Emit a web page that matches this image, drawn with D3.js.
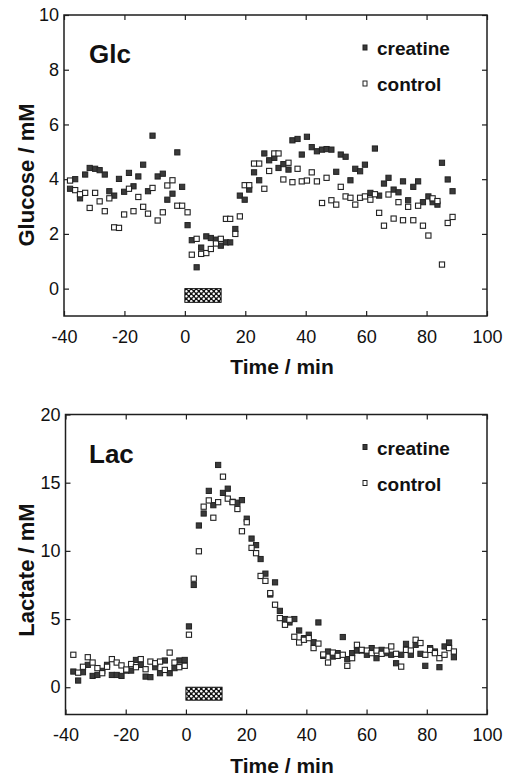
<!DOCTYPE html>
<html>
<head>
<meta charset="utf-8">
<script src="https://cdn.jsdelivr.net/npm/d3@7"></script>
<style>
  body { margin: 0; background: #fff; }
  svg { display: block; }
</style>
</head>
<body>
<script>
// sampling times (min) and values
const glcTime = [-38, -36.3, -34.7, -33, -31.5, -29.7, -28.2, -26.5, -25, -23.4, -21.8, -20.1, -18.5, -17, -15.4, -13.8, -12.2, -10.7, -9, -7.3,
  -5.8, -4.1, -2.5, -0.9, 0.9, 2.3, 3.9, 5.4, 7.1, 8.6, 10.3, 11.9, 13.6, 15, 16.7, 18.2, 19.8, 21.3, 22.9, 24.6,
  26.3, 27.9, 29.6, 31, 32.6, 34.3, 35.6, 37.3, 38.7, 40.4, 42, 43.7, 45.4, 46.9, 48.5, 50.1, 51.6, 53.2, 54.8, 56.4,
  58, 59.6, 61.4, 62.9, 64.3, 65.9, 67.4, 69.1, 70.7, 72.2, 73.9, 75.6, 77.2, 78.8, 80.6, 82, 83.6, 85.1, 87, 88.6];
const glcCreatine = [3.65, 4.0, 3.3, 4.17, 4.41, 4.38, 4.33, 4.17, 3.56, 3.4, 4.01, 3.54, 4.23, 3.74, 4.1, 4.53, 3.56, 5.59, 4.1, 4.2,
  3.25, 3.47, 4.98, 3.72, 2.32, 1.77, 0.78, 1.5, 1.91, 1.85, 1.79, 1.57, 1.69, 1.69, 2.18, 3.4, 3.25, 3.62, 4.25, 3.96,
  4.94, 4.69, 4.78, 4.41, 4.55, 4.35, 5.42, 5.47, 4.9, 5.55, 5.17, 5.02, 5.08, 5.1, 5.08, 4.27, 4.9, 4.82, 3.96, 4.38,
  4.29, 4.53, 3.5, 5.12, 3.4, 3.84, 4.05, 3.62, 3.52, 3.92, 3.23, 3.72, 3.92, 3.16, 3.37, 3.16, 3.07, 4.6, 3.99, 3.56];
const glcControl = [3.95, 3.6, 3.45, 3.5, 2.95, 3.5, 3.19, 2.83, 3.3, 2.24, 2.22, 2.71, 3.65, 2.83, 3.35, 2.99, 2.74, 3.68, 2.49, 2.79,
  3.77, 3.96, 3.03, 3.03, 2.79, 1.24, 1.82, 1.27, 1.3, 1.45, 1.65, 1.82, 2.55, 2.55, 2.0, 2.64, 3.78, 3.78, 4.57, 4.57,
  3.65, 4.3, 4.94, 4.94, 3.99, 4.6, 3.89, 4.38, 3.92, 3.95, 4.25, 3.92, 3.13, 4.05, 3.23, 3.07, 3.72, 3.37, 3.32, 3.07,
  3.32, 3.37, 3.25, 3.45, 2.77, 2.3, 3.44, 2.56, 3.16, 2.5, 2.99, 2.5, 3.03, 2.3, 1.94, 3.3, 3.2, 0.88, 2.4, 2.62];

const lacTime = [-37.4, -35.8, -34.2, -32.6, -31, -29.4, -27.8, -26.2, -24.6, -23, -21.4, -19.8, -18.2, -16.6, -15, -13.4, -11.8, -10.2, -8.6, -7,
  -5.4, -3.8, -2.2, -0.4, 1, 2.6, 4.3, 5.9, 7.6, 9.1, 10.7, 12.3, 13.9, 15.5, 17.1, 18.6, 20.2, 21.8, 23.3, 24.8,
  26.4, 28, 29.6, 31.2, 32.9, 34.4, 36, 37.6, 39.2, 40.8, 42.4, 44, 45.6, 47.2, 48.8, 50.4, 52.1, 53.6, 55.2, 56.8,
  58.4, 60.1, 61.7, 63.3, 65, 66.6, 68.2, 69.8, 71.5, 73.1, 74.7, 76.3, 77.9, 79.5, 81.1, 82.7, 84.2, 85.9, 87.4, 89];
const lacCreatine = [1.15, 0.49, 1.1, 1.64, 0.83, 0.9, 1.2, 1.64, 0.9, 0.9, 0.83, 1.22, 1.22, 2.0, 1.64, 0.78, 0.74, 1.47, 1.03, 1.96,
  1.03, 1.4, 1.96, 2.0, 4.46, 7.5, 11.86, 12.74, 14.4, 13.35, 16.3, 14.25, 14.56, 13.6, 13.53, 13.72, 12.36, 10.9, 10.42, 9.4,
  8.33, 6.8, 7.69, 5.6, 5.0, 4.75, 5.0, 4.16, 3.6, 3.85, 3.3, 4.75, 2.3, 2.62, 2.25, 2.5, 3.68, 2.06, 2.5, 2.69,
  2.69, 2.38, 2.87, 2.13, 2.74, 2.5, 2.38, 1.76, 2.38, 3.18, 2.38, 3.11, 2.45, 1.57, 2.87, 2.62, 1.47, 2.99, 3.28, 2.2];
const lacControl = [2.38, 1.07, 1.5, 2.2, 1.81, 1.4, 1.03, 1.5, 2.06, 1.81, 1.6, 1.3, 1.7, 1.47, 2.06, 1.32, 1.88, 1.76, 1.88, 1.27,
  2.54, 1.81, 1.47, 1.57, 3.85, 7.96, 9.97, 13.24, 13.7, 12.43, 13.57, 15.44, 13.83, 13.57, 13.07, 11.44, 12.1, 10.22, 9.83, 8.16,
  7.8, 6.9, 6.05, 5.07, 4.58, 4.95, 3.7, 3.28, 3.48, 3.6, 2.87, 3.2, 2.4, 1.81, 2.54, 2.3, 2.38, 1.57, 2.13, 3.11,
  2.74, 2.69, 2.5, 2.69, 2.45, 2.69, 2.99, 2.45, 1.51, 2.74, 2.69, 3.48, 3.24, 2.38, 2.74, 2.5, 2.13, 2.38, 2.87, 2.62];

const xTicks = [-40, -20, 0, 20, 40, 60, 80, 100];
const glcTicks = [0, 2, 4, 6, 8, 10];
const lacTicks = [0, 5, 10, 15, 20];
const seriesNames = ['creatine', 'control'];
const stimulus = [0, 12]; // min

const font = "'Liberation Sans', Arial, Helvetica, sans-serif";
const ink = '#1e1e1e';

const svg = d3.select('body').append('svg')
  .attr('width', 506)
  .attr('height', 776);

// checkered fill for the stimulation bar
let pat = svg.append('defs').append('pattern')
  .attr('id', 'hatch')
  .attr('patternUnits', 'userSpaceOnUse')
  .attr('width', 5)
  .attr('height', 5);
pat.append('rect').attr('width', 5).attr('height', 5).attr('fill', '#111');
pat.append('circle').attr('cx', 1.25).attr('cy', 1.25).attr('r', 1.25).attr('fill', '#fff');
pat.append('circle').attr('cx', 3.75).attr('cy', 3.75).attr('r', 1.25).attr('fill', '#fff');

// plain hyphen for negatives, like the original
const plain = d => String(d);

function styleAxis(g, size) {
  g.attr('font-family', font).attr('font-size', size).attr('color', ink);
  g.select('.domain').remove();
  g.selectAll('.tick line').attr('stroke-width', 1.2);
  g.selectAll('.tick text').attr('fill', '#111');
}

function drawPanel(p) {
  let x = d3.scaleLinear().domain([-40, 100]).range([p.left, 487]);
  let y = d3.scaleLinear().domain(p.yDomain).range([p.bottom, p.top]);

  let g = svg.append('g');

  // inward ticks on all four sides
  g.append('g')
    .attr('transform', `translate(0, ${p.bottom})`)
    .call(d3.axisBottom(x).tickValues(xTicks).tickSize(-5).tickSizeOuter(0).tickPadding(14).tickFormat(plain))
    .call(a => styleAxis(a, 18));
  g.append('g')
    .attr('transform', `translate(0, ${p.top})`)
    .call(d3.axisTop(x).tickValues(xTicks).tickSize(-5).tickSizeOuter(0).tickFormat(''))
    .call(a => styleAxis(a, 18));
  g.append('g')
    .attr('transform', `translate(${p.left}, 0)`)
    .call(d3.axisLeft(y).tickValues(p.yTicks).tickSize(-5).tickSizeOuter(0).tickPadding(5).tickFormat(plain))
    .call(a => styleAxis(a, 18));
  g.append('g')
    .attr('transform', `translate(487, 0)`)
    .call(d3.axisRight(y).tickValues(p.yTicks).tickSize(-5).tickSizeOuter(0).tickFormat(''))
    .call(a => styleAxis(a, 18));

  // frame
  g.append('rect')
    .attr('x', p.left)
    .attr('y', p.top)
    .attr('width', 487 - p.left)
    .attr('height', p.bottom - p.top)
    .attr('fill', 'none')
    .attr('stroke', ink)
    .attr('stroke-width', 1.5);

  // stimulation bar
  g.append('rect')
    .attr('x', x(stimulus[0]))
    .attr('y', y(p.barRange[1]))
    .attr('width', x(stimulus[1]) - x(stimulus[0]))
    .attr('height', y(p.barRange[0]) - y(p.barRange[1]))
    .attr('fill', 'url(#hatch)')
    .attr('stroke', '#111')
    .attr('stroke-width', 1);

  // points: creatine filled, control open
  let s = 5.2;
  g.selectAll('.crt')
    .data(p.time.map((t, i) => [t, p.creatine[i]]))
    .enter()
    .append('rect')
    .attr('class', 'crt')
    .attr('x', d => x(d[0]) - s / 2)
    .attr('y', d => y(d[1]) - s / 2)
    .attr('width', s)
    .attr('height', s)
    .attr('fill', '#3a3a3a')
    .attr('stroke', '#222')
    .attr('stroke-width', 1);

  g.selectAll('.ctl')
    .data(p.time.map((t, i) => [t, p.control[i]]))
    .enter()
    .append('rect')
    .attr('class', 'ctl')
    .attr('x', d => x(d[0]) - s / 2)
    .attr('y', d => y(d[1]) - s / 2)
    .attr('width', s)
    .attr('height', s)
    .attr('fill', '#fff')
    .attr('stroke', '#222')
    .attr('stroke-width', 1.1);

  // panel tag
  g.append('text')
    .attr('x', 89)
    .attr('y', p.top + 48)
    .attr('font-family', font)
    .attr('font-weight', 'bold')
    .attr('font-size', 26)
    .attr('fill', '#111')
    .text(p.tag);

  // legend
  seriesNames.forEach((name, i) => {
    let ly = p.top + 40 + i * 36;
    g.append('rect')
      .attr('x', 363)
      .attr('y', ly - 10)
      .attr('width', 4)
      .attr('height', 5)
      .attr('fill', i === 0 ? '#3a3a3a' : '#fff')
      .attr('stroke', '#222')
      .attr('stroke-width', 1);
    g.append('text')
      .attr('x', 377)
      .attr('y', ly)
      .attr('font-family', font)
      .attr('font-weight', 'bold')
      .attr('font-size', 19)
      .attr('fill', '#111')
      .text(name);
  });

  // axis titles
  g.append('text')
    .attr('x', 282)
    .attr('y', p.bottom + 58)
    .attr('text-anchor', 'middle')
    .attr('font-family', font)
    .attr('font-weight', 'bold')
    .attr('font-size', 21)
    .attr('fill', '#111')
    .text('Time / min');

  g.append('text')
    .attr('transform', `translate(34, ${p.yLabelY}) rotate(-90)`)
    .attr('text-anchor', 'middle')
    .attr('font-family', font)
    .attr('font-weight', 'bold')
    .attr('font-size', 22)
    .attr('fill', '#111')
    .text(p.yLabel);
}

drawPanel({
  top: 15, bottom: 316, left: 64,
  yDomain: [-1, 10], yTicks: glcTicks,
  barRange: [-0.5, 0],
  time: glcTime, creatine: glcCreatine, control: glcControl,
  tag: 'Glc', yLabel: 'Glucose / mM', yLabelY: 175
});

drawPanel({
  top: 414.5, bottom: 714.5, left: 65.5,
  yDomain: [-2, 20], yTicks: lacTicks,
  barRange: [-0.95, 0],
  time: lacTime, creatine: lacCreatine, control: lacControl,
  tag: 'Lac', yLabel: 'Lactate / mM', yLabelY: 570
});
</script>
</body>
</html>
